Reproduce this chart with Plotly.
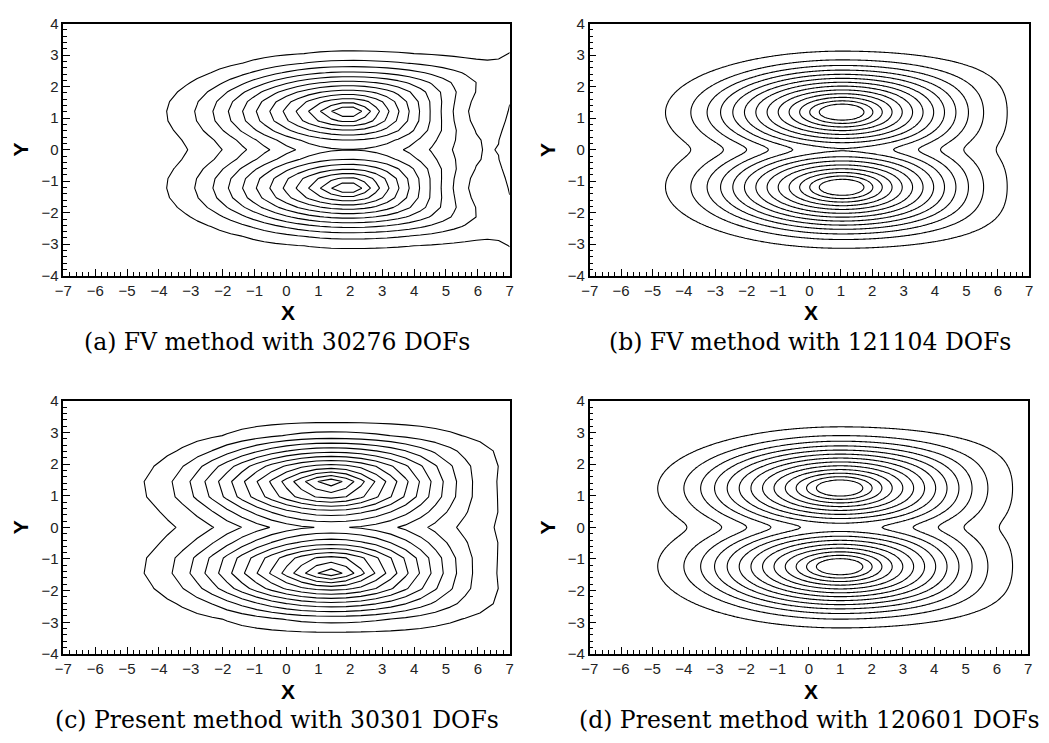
import numpy as np
import plotly.graph_objects as go

# ---------------- data ----------------
CAPTIONS = ["(a) FV method with 30276 DOFs", "(b) FV method with 121104 DOFs",
            "(c) Present method with 30301 DOFs", "(d) Present method with 120601 DOFs"]
X_TICKS = [-7, -6, -5, -4, -3, -2, -1, 0, 1, 2, 3, 4, 5, 6, 7]
Y_TICKS = [-4, -3, -2, -1, 0, 1, 2, 3, 4]

# reconstructed field of each panel (two maxima mirrored about y = 0)
PEAK_X = [1.95, 1.05, 1.40, 1.00]        # x of the maxima
PEAK_Y = [1.22, 1.20, 1.35, 1.25]        # |y| of the maxima
PEAK_AMP = [0.905, 1.04, 0.985, 1.04]    # height of the maxima
SPREAD_LEFT = [3.00, 2.92, 3.05, 3.02]   # x spread towards -x
SPREAD_RIGHT = [2.30, 2.72, 2.70, 2.85]  # x spread towards +x
BARREL = [0.8, 0.18, 0.35, 0.18]         # widening of the right flank away from the maxima
NECK0 = [0.25, 0.125, 0.20, 0.125]       # filling of the saddle at y = 0
NECK1 = [0.03, 0.03, 0.03, 0.03]
LIN = [0.794, 0.794, 0.794, 0.794]       # decay coefficients
QUART = [0.134, 0.134, 0.134, 0.134]
EDGE_AMP = [0.13, 0.0, 0.0, 0.0]         # rise at the right boundary (panel a)
EDGE_W = 0.45
EDGE_SY = 1.75
GRID_NX = [41, 281, 31, 281]             # sample points of the solution grid
GRID_DY = [0.305, 0.05, 0.48333, 0.05]
SMOOTH = [0, 1.0, 0, 1.0]

# contour levels
LEVEL_START = 0.035
LEVEL_STEP = 0.0677
LEVEL_COUNT = 13


def field(i):
    xs = np.linspace(-7, 7, GRID_NX[i])
    n = int(np.ceil(4 / GRID_DY[i]))
    ys = np.arange(-n, n + 1) * GRID_DY[i]
    ys = np.clip(ys, -4, 4)
    X, Y = np.meshgrid(xs, ys)
    dx = X - PEAK_X[i]
    kx = np.where(dx < 0, SPREAD_LEFT[i], SPREAD_RIGHT[i])
    u2 = (dx / kx) ** 2
    yy = np.sqrt(Y ** 2 + (NECK0[i] + NECK1[i] * u2) ** 2)
    dy = yy - PEAK_Y[i]
    barrel = np.where(dx < 0, 0.0, BARREL[i])
    kxe = kx * np.sqrt(1 + barrel * dy ** 2)
    rho2 = (dx / kxe) ** 2 + dy ** 2
    q = LIN[i] * np.sqrt(rho2 + 0.0025) + QUART[i] * rho2 ** 2
    f = PEAK_AMP[i] * np.exp(-q)
    f = f + EDGE_AMP[i] * np.exp(-(7 - X) / EDGE_W) * np.exp(-Y ** 2 / (2 * EDGE_SY ** 2))
    return xs, ys, f


W, H = 1049, 743
# plot areas in pixels (left, right, top, bottom)
BOXES = [(55, 507, 15, 273), (588, 1033, 15, 273), (55, 507, 401, 660), (588, 1032, 401, 660)]

fig = go.Figure()
level_end = LEVEL_START + LEVEL_STEP * (LEVEL_COUNT - 1) + 1e-6

for i in range(4):
    xs, ys, z = field(i)
    sfx = "" if i == 0 else str(i + 1)
    fig.add_trace(go.Contour(
        x=xs, y=ys, z=z,
        xaxis="x" + sfx, yaxis="y" + sfx,
        contours=dict(coloring="lines", start=LEVEL_START, end=level_end, size=LEVEL_STEP,
                      showlabels=False),
        colorscale=[[0, "black"], [1, "black"]],
        line=dict(width=1.1, smoothing=SMOOTH[i]),
        showscale=False, hoverinfo="skip",
    ))

tickfont = dict(family="Liberation Sans, Arial, sans-serif", size=15, color="#222")
layout = dict(width=W, height=H, margin=dict(l=0, r=0, t=0, b=0),
              paper_bgcolor="white", plot_bgcolor="white", showlegend=False)

annotations = []
for i, (l, r, t, b) in enumerate(BOXES):
    sfx = "" if i == 0 else str(i + 1)
    xd = [l / W, r / W]
    yd = [1 - b / H, 1 - t / H]
    common = dict(showline=True, linewidth=1.5, linecolor="black", mirror=True,
                  ticks="inside", ticklen=7, tickwidth=1, tickcolor="black",
                  showgrid=False, zeroline=False, tickfont=tickfont,
                  minor=dict(ticks="inside", ticklen=4, dtick=0.2, tickcolor="black",
                             tickwidth=1, showgrid=False))
    layout["xaxis" + sfx] = dict(domain=xd, range=[-7, 7], tickvals=X_TICKS,
                                 anchor="y" + sfx, **common)
    layout["yaxis" + sfx] = dict(domain=yd, range=[-4, 4], tickvals=Y_TICKS,
                                 anchor="x" + sfx, **common)
    cx = (l + r) / 2
    cy = (t + b) / 2
    # X title
    annotations.append(dict(text="<b>X</b>", x=(cx + 2) / W, y=1 - (b + 38) / H,
                            xref="paper", yref="paper", showarrow=False,
                            font=dict(family="Liberation Sans, Arial", size=21, color="black"),
                            xanchor="center", yanchor="middle"))
    # Y title
    annotations.append(dict(text="<b>Y</b>", x=(l - 43) / W, y=1 - cy / H,
                            xref="paper", yref="paper", showarrow=False, textangle=-90,
                            font=dict(family="Liberation Sans, Arial", size=21, color="black"),
                            xanchor="center", yanchor="middle"))
    # caption
    capx = 271 if i % 2 == 0 else 811
    annotations.append(dict(text=CAPTIONS[i], x=capx / W, y=1 - (b + 68) / H,
                            xref="paper", yref="paper", showarrow=False,
                            font=dict(family="DejaVu Serif, serif", size=23.5, color="black"),
                            xanchor="center", yanchor="middle"))

layout["annotations"] = annotations
fig.update_layout(**layout)
fig.write_html("out.html")
